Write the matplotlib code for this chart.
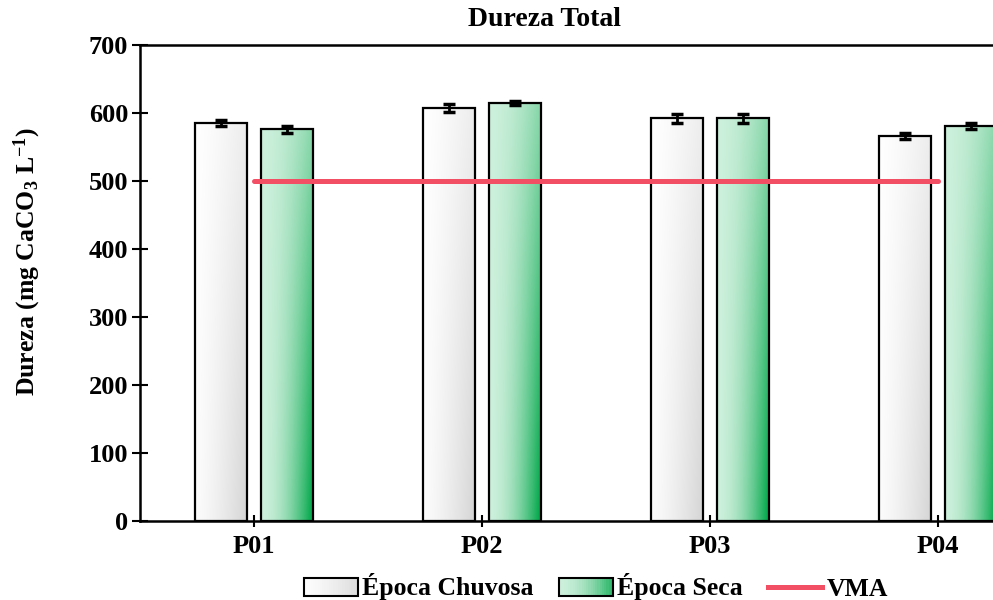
import numpy as np
import matplotlib
matplotlib.use("Agg")
import matplotlib.pyplot as plt
from matplotlib.patches import Rectangle
from matplotlib.lines import Line2D
from matplotlib.legend_handler import HandlerBase

plt.rcParams['font.family'] = ['Liberation Serif', 'DejaVu Serif']
plt.rcParams['font.weight'] = 'bold'
plt.rcParams['mathtext.fontset'] = 'custom'
plt.rcParams['mathtext.rm'] = 'Liberation Serif:bold'
plt.rcParams['mathtext.bf'] = 'Liberation Serif:bold'
plt.rcParams['mathtext.default'] = 'rm'

# ---- data ----
categories = ["P01", "P02", "P03", "P04"]
chuvosa = [585, 607, 592, 566]
chuvosa_err = [4, 6, 7, 5]
seca = [576, 614, 592, 581]
seca_err = [5, 3, 7, 4]
vma = 500
series_labels = ["Época Chuvosa", "Época Seca", "VMA"]
yticks = [0, 100, 200, 300, 400, 500, 600, 700]

# ---- gradient colour functions ----
def gray_col(u, v):
    # u: 0 left -> 1 right, v: 0 bottom -> 1 top
    t = np.clip(0.08 * (1 - v) + u ** 1.3 * (0.45 + 0.5 * (1 - v)), 0, 1)
    light = np.array([1.0, 1.0, 1.0])
    dark = np.array([0.84, 0.84, 0.84])
    return light + (dark - light) * t[..., None]

def green_col(u, v):
    t = np.clip(u ** 1.8 * (0.35 + 0.7 * (1 - v)), 0, 1)
    light = np.array([0.80, 0.94, 0.86])
    dark = np.array([0.02, 0.66, 0.30])
    return light + (dark - light) * t[..., None]

def grad_image(func, nx=60, ny=120):
    u = np.linspace(0, 1, nx)[None, :].repeat(ny, 0)
    v = np.linspace(1, 0, ny)[:, None].repeat(nx, 1)
    return func(u, v)

fig = plt.figure(figsize=(9.93, 6.0), dpi=100)
ax = fig.add_axes([140 / 993, 1 - 520.5 / 600, 912 / 993, 475.5 / 600])

x = np.arange(len(categories))
w = 0.228
off = 0.146

def draw_bars(xpos, vals, errs, func):
    bars = ax.bar(xpos, vals, width=w, facecolor='none', edgecolor='black',
                  linewidth=1.6, zorder=3)
    for b in bars:
        x0, y0, bw, bh = b.get_x(), b.get_y(), b.get_width(), b.get_height()
        im = ax.imshow(grad_image(func), extent=(x0, x0 + bw, y0, y0 + bh),
                       aspect='auto', zorder=2, interpolation='bilinear')
        im.set_clip_path(b)
    ax.errorbar(xpos, vals, yerr=errs, fmt='none', ecolor='black',
                elinewidth=2.0, capsize=4.5, capthick=2.5, zorder=4)

draw_bars(x - off, chuvosa, chuvosa_err, gray_col)
draw_bars(x + off, seca, seca_err, green_col)

ax.plot([x[0], x[-1]], [vma, vma], color='#F24E64', linewidth=3.6,
        solid_capstyle='round', zorder=5)

ax.set_xlim(-0.5, 3.5)
ax.set_ylim(0, 700)
ax.set_yticks(yticks)
ax.set_yticklabels([str(t) for t in yticks])
ax.set_xticks(x)
ax.set_xticklabels(categories)
ax.tick_params(axis='y', direction='inout', length=11, width=1.5,
               labelsize=19, pad=3)
ax.tick_params(axis='x', direction='inout', length=9, width=1.5,
               labelsize=19, pad=6)
for s in ['left', 'top', 'bottom', 'right']:
    ax.spines[s].set_linewidth(1.8)

fig.text(545 / 993, 1 - 20 / 600, "Dureza Total", ha='center', va='center',
         fontsize=20, fontweight='bold')
fig.text(27 / 993, 1 - 262 / 600, r"Dureza (mg CaCO$_3$ L$^{-1}$)",
         rotation=90, ha='center', va='center', fontsize=18.5, fontweight='bold')

class GradHandler(HandlerBase):
    def __init__(self, func):
        super().__init__()
        self.func = func
    def create_artists(self, legend, orig_handle, xdescent, ydescent,
                       width, height, fontsize, trans):
        arts = []
        n = 24
        x0, y0 = -xdescent, -ydescent
        for i in range(n):
            u = np.array((i + 0.5) / n)
            c = self.func(u, np.array(0.3))
            arts.append(Rectangle((x0 + width * i / n, y0), width / n + 0.3,
                                  height, facecolor=c, edgecolor='none',
                                  transform=trans))
        arts.append(Rectangle((x0, y0), width, height, facecolor='none',
                              edgecolor='black', linewidth=1.5,
                              transform=trans))
        return arts

h1 = Rectangle((0, 0), 1, 1)
h2 = Rectangle((0, 0), 1, 1)
h3 = Line2D([0], [0], color='#F24E64', linewidth=3.6)
leg = ax.legend([h1, h2, h3], series_labels, loc='center',
                bbox_to_anchor=(0.5, (520.5 - 587) / 475.5), ncol=3,
                frameon=False, fontsize=18.5, handlelength=2.1,
                handletextpad=0.15, columnspacing=1.0,
                handler_map={h1: GradHandler(gray_col),
                             h2: GradHandler(green_col)})

fig.savefig("out.png", dpi=100)
